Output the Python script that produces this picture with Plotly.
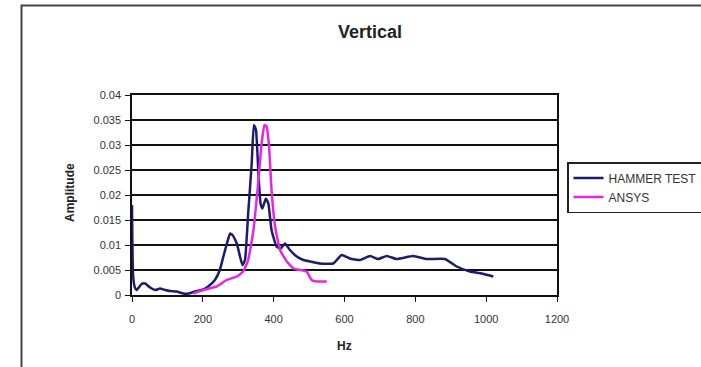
import plotly.graph_objects as go

# HAMMER TEST series (Hz, amplitude)
hammer_hz = [0, 3, 8, 13, 27, 37, 51, 66, 79, 94, 107, 126, 145, 160, 178, 197, 215, 234, 248, 258,
             268, 277, 284, 296, 305, 312, 319, 328, 338, 344, 350, 357, 363, 368, 378, 385, 394,
             408, 420, 432, 446, 465, 484, 503, 531, 568, 592, 615, 644, 672, 695, 719, 747, 794,
             832, 884, 917, 954, 987, 1020]
hammer_amp = [0.018, 0.004, 0.0015, 0.001, 0.0022, 0.0023, 0.0015, 0.001, 0.0013, 0.001, 0.0008,
              0.0007, 0.0003, 0.0003, 0.0007, 0.001, 0.0017, 0.003, 0.005, 0.0077, 0.0103, 0.0123,
              0.012, 0.0103, 0.0077, 0.006, 0.007, 0.0163, 0.0263, 0.034, 0.033, 0.0243, 0.0183,
              0.0173, 0.0193, 0.0183, 0.013, 0.0097, 0.0093, 0.0103, 0.009, 0.0077, 0.007, 0.0067,
              0.0063, 0.0063, 0.008, 0.0073, 0.007, 0.0078, 0.0072, 0.0078, 0.0072, 0.0078, 0.0072,
              0.0072, 0.0057, 0.0047, 0.0043, 0.0037]

# ANSYS series (Hz, amplitude)
ansys_hz = [173, 201, 239, 267, 296, 314, 328, 343, 357, 366, 374, 380, 387, 394, 404, 418, 437,
            456, 475, 493, 507, 521, 550]
ansys_amp = [0.0003, 0.001, 0.0017, 0.003, 0.0037, 0.0047, 0.007, 0.013, 0.023, 0.0303, 0.034,
             0.0337, 0.0297, 0.021, 0.0137, 0.009, 0.0067, 0.0053, 0.005, 0.0047, 0.003, 0.0027,
             0.0027]

x_ticks = [0, 200, 400, 600, 800, 1000, 1200]
y_ticks = [0, 0.005, 0.01, 0.015, 0.02, 0.025, 0.03, 0.035, 0.04]
y_tick_text = ["0", "0.005", "0.01", "0.015", "0.02", "0.025", "0.03", "0.035", "0.04"]

FONT = "Liberation Sans, Arial, sans-serif"

fig = go.Figure()
fig.add_trace(go.Scatter(x=hammer_hz, y=hammer_amp, mode="lines", name="HAMMER TEST",
                         line=dict(color="#1c1c6e", width=2.5, shape="spline", smoothing=0.4)))
fig.add_trace(go.Scatter(x=ansys_hz, y=ansys_amp, mode="lines", name="ANSYS",
                         line=dict(color="#e426e4", width=2.5, shape="spline", smoothing=0.4)))

L, R, T, B = 132, 144, 95, 72
W, H = 701, 367
pw, ph = W - L - R, H - T - B

def px2paper_x(px):
    return (px - L) / pw

def py2paper_y(py):
    return (H - B - py) / ph

fig.update_layout(
    width=W, height=H,
    margin=dict(l=L, r=R, t=T, b=B, autoexpand=False),
    paper_bgcolor="white", plot_bgcolor="white",
    font=dict(family=FONT, color="#333333", size=11),
    showlegend=True,
    legend=dict(x=px2paper_x(567), y=py2paper_y(162), xanchor="left", yanchor="top",
                bordercolor="#222222", borderwidth=1.5, bgcolor="white",
                font=dict(size=12, color="#333333"), tracegroupgap=0, itemwidth=30),
    xaxis=dict(range=[0, 1200], tickvals=x_ticks, ticks="outside", ticklen=5, tickwidth=1.2,
               tickcolor="#111111", showline=True, linecolor="#111111", linewidth=1.5,
               mirror=True, showgrid=False, zeroline=False, ticklabelstandoff=8,
               tickfont=dict(size=11, color="#333333")),
    yaxis=dict(range=[0, 0.04], tickvals=y_ticks, ticktext=y_tick_text, ticks="outside",
               ticklen=5, tickwidth=1.2, tickcolor="#111111", showline=True,
               linecolor="#111111", linewidth=1.5, mirror=True, showgrid=True,
               gridcolor="#111111", gridwidth=1.5, zeroline=False, ticklabelstandoff=2,
               tickfont=dict(size=11, color="#333333")),
    annotations=[
        dict(text="<b>Vertical</b>", xref="paper", yref="paper", x=px2paper_x(370),
             y=py2paper_y(32), xanchor="center", yanchor="middle", showarrow=False,
             font=dict(size=18, color="#222222")),
        dict(text="<b>Hz</b>", xref="paper", yref="paper", x=px2paper_x(344),
             y=py2paper_y(346), xanchor="center", yanchor="middle", showarrow=False,
             font=dict(size=12, color="#222222")),
        dict(text="<b>Amplitude</b>", xref="paper", yref="paper", x=px2paper_x(70),
             y=py2paper_y(193), xanchor="center", yanchor="middle", showarrow=False,
             textangle=-90, font=dict(size=12, color="#222222")),
    ],
    shapes=[
        dict(type="rect", xref="paper", yref="paper", x0=px2paper_x(21.5), y0=py2paper_y(420),
             x1=px2paper_x(760), y1=py2paper_y(5.5), line=dict(color="#444444", width=2),
             fillcolor="rgba(0,0,0,0)", layer="below"),
    ],
)

fig.write_html("out.html")
